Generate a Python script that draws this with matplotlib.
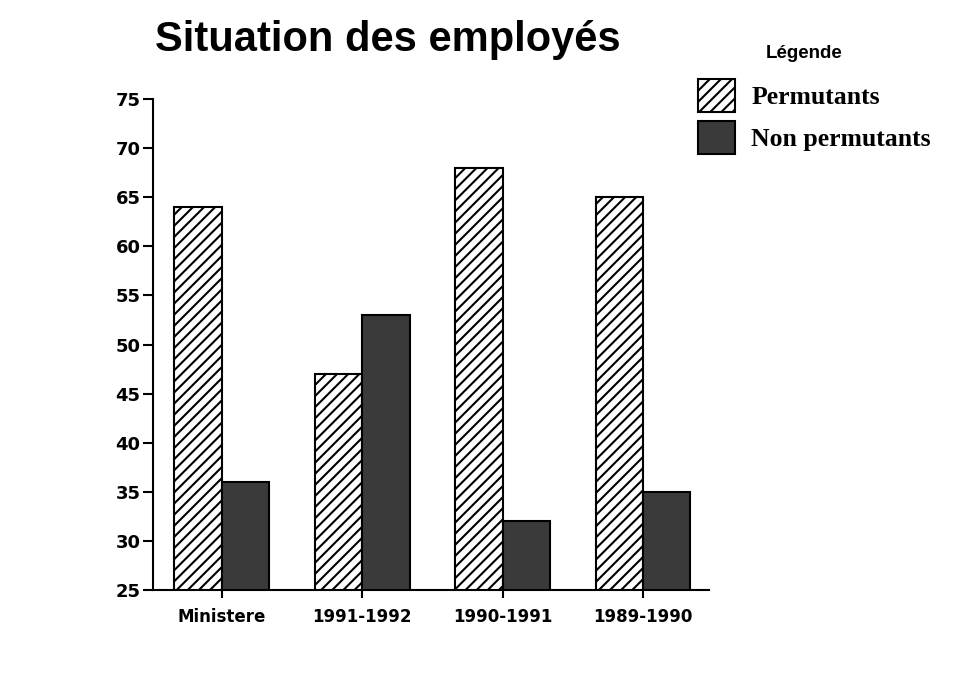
import matplotlib
matplotlib.use("Agg")
import matplotlib.pyplot as plt
import numpy as np
from matplotlib.patches import Patch

categories = ["Ministere", "1991-1992", "1990-1991", "1989-1990"]
permutants = [64, 47, 68, 65]
non_permutants = [36, 53, 32, 35]
yticks = [25, 30, 35, 40, 45, 50, 55, 60, 65, 70, 75]

plt.rcParams['hatch.linewidth'] = 1.5

DARK = '#3a3a3a'

fig = plt.figure(figsize=(9.54, 6.84), dpi=100)
ax = fig.add_axes([153/954, 1 - 590/684, (709 - 153)/954, (590 - 99)/684])

x = np.arange(len(categories))
w = 0.338
ax.bar(x - w/2, permutants, w, facecolor='white', edgecolor='black',
       hatch='///', linewidth=1.5, zorder=2)
ax.bar(x + w/2, non_permutants, w, facecolor=DARK, edgecolor='black',
       linewidth=1.5, zorder=2)

ax.set_ylim(25, 75)
ax.set_xlim(-0.49, 3.47)
ax.set_yticks(yticks)
ax.set_yticklabels([str(v) for v in yticks], fontfamily='DejaVu Sans',
                   fontweight='bold', fontsize=13)
ax.set_xticks(x)
ax.set_xticklabels(categories, fontfamily='DejaVu Sans', fontweight='bold',
                   fontsize=12)
ax.tick_params(axis='y', length=7, width=1.5, pad=2)
ax.tick_params(axis='x', length=6, width=1.5, pad=7)
for s in ['top', 'right']:
    ax.spines[s].set_visible(False)
for s in ['left', 'bottom']:
    ax.spines[s].set_linewidth(1.5)

fig.text(155/954, 1 - 51/684, "Situation des employés", ha='left',
         va='baseline', fontfamily='Liberation Sans', fontweight='bold',
         fontsize=30)

fig.text(766/954, 1 - 53/684, "Légende", ha='left', va='center',
         fontfamily='Liberation Sans', fontweight='bold', fontsize=13.5)

handles = [
    Patch(facecolor='white', edgecolor='black', hatch='///', linewidth=1.5),
    Patch(facecolor=DARK, edgecolor='black', linewidth=1.5),
]
leg = fig.legend(handles, ["Permutants", "Non permutants"],
                 loc='upper left', bbox_to_anchor=(693/954, 1 - 74/684),
                 frameon=False, borderaxespad=0,
                 prop={'family': 'Liberation Serif', 'weight': 'bold', 'size': 18.5},
                 handlelength=1.44, handleheight=1.6, handletextpad=0.62,
                 labelspacing=0.35, borderpad=0.2)

fig.savefig("out.png", dpi=100, facecolor='white')
